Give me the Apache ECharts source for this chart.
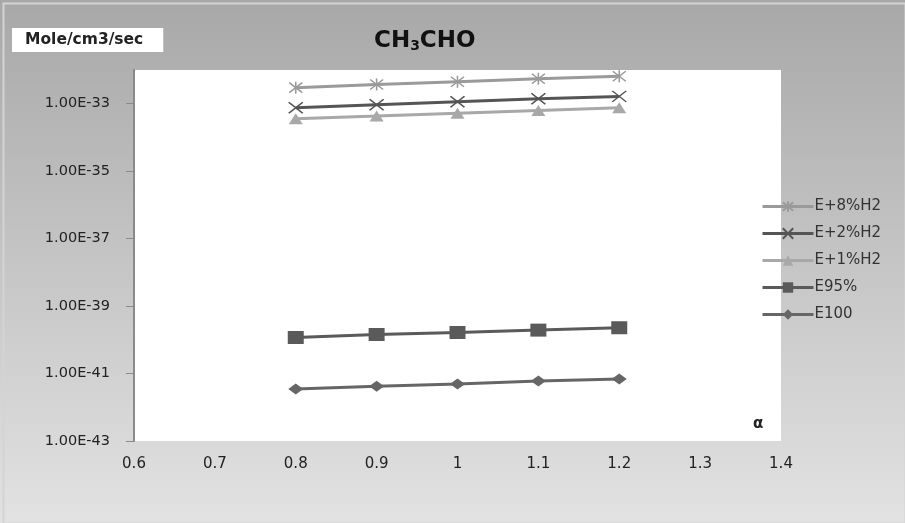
<!DOCTYPE html>
<html><head><meta charset="utf-8">
<script src="https://cdn.jsdelivr.net/npm/echarts@6/dist/echarts.min.js"></script>
<style>html,body{margin:0;padding:0;}#c{width:905px;height:523px;}</style>
</head><body><div id="c"></div>
<script>
var alpha = [0.8, 0.9, 1.0, 1.1, 1.2];
var seriesNames = ['E+8%H2', 'E+2%H2', 'E+1%H2', 'E95%', 'E100'];
var e8h2 = [3.0e-33, 3.7e-33, 4.5e-33, 5.5e-33, 6.5e-33];
var e2h2 = [7.6e-34, 9.3e-34, 1.15e-33, 1.4e-33, 1.65e-33];
var e1h2 = [3.6e-34, 4.3e-34, 5.2e-34, 6.3e-34, 7.6e-34];
var e95 = [1.17e-40, 1.44e-40, 1.65e-40, 1.94e-40, 2.28e-40];
var e100 = [3.5e-42, 4.2e-42, 4.9e-42, 6.0e-42, 6.9e-42];
var yTickExponents = [-43, -41, -39, -37, -35, -33];

var STAR = 'path://M0,0L10,10M10,0L0,10M5,-1L5,11';
var CROSS = 'path://M0,0L10,10M10,0L0,10';

function pairs(vals){ return alpha.map(function(a,i){ return [a, Math.log10(vals[i])]; }); }

var styles = [
  {data:e8h2, color:'#9a9a9a', symbol:STAR, size:[13,12], stroke:true},
  {data:e2h2, color:'#555555', symbol:CROSS, size:[14,11], stroke:true},
  {data:e1h2, color:'#a8a8a8', symbol:'triangle', size:[14,11], stroke:false},
  {data:e95, color:'#5a5a5a', symbol:'rect', size:[16,13], stroke:false},
  {data:e100, color:'#666666', symbol:'diamond', size:[15,11], stroke:false}
];

var series = styles.map(function(s, i){
  return {
    name: seriesNames[i],
    type: 'line',
    data: pairs(s.data),
    symbol: s.symbol,
    symbolSize: s.size,
    showAllSymbol: true,
    lineStyle: {color: s.color, width: 3},
    itemStyle: s.stroke ? {color: 'rgba(0,0,0,0)', borderColor: s.color, borderWidth: 1.5} : {color: s.color},
    emphasis: {disabled: true},
    animation: false
  };
});

var FONT = 'DejaVu Sans';
var chart = echarts.init(document.getElementById('c'));
chart.setOption({
  animation: false,
  backgroundColor: {type:'linear', x:0, y:0, x2:0, y2:1, colorStops:[{offset:0, color:'#a8a8a8'},{offset:1, color:'#e2e2e2'}]},
  title: [
    {text: 'CH{s|3}CHO', left: 369, top: 25,
     textStyle: {fontFamily: FONT, fontSize: 23, fontWeight: 'bold', color: '#111',
       rich: {s: {fontFamily: FONT, fontSize: 14, fontWeight: 'bold', color: '#111', verticalAlign: 'bottom', padding:[7,0,0,0]}}}},
    {text: 'Mole/cm3/sec', left: 12, top: 28, backgroundColor: '#fff', padding: [4, 20, 4, 13],
     textStyle: {fontFamily: FONT, fontSize: 15.5, fontWeight: 'bold', color: '#222'}}
  ],
  grid: {left: 134, right: 124, top: 70, bottom: 82, show: true, backgroundColor: '#fff', borderWidth: 0, containLabel: false},
  legend: {
    orient: 'vertical', left: 761, top: 199, padding: 0, itemWidth: 51, itemHeight: 13, itemGap: 12,
    data: seriesNames,
    lineStyle: {width: 3},
    textStyle: {fontFamily: FONT, fontSize: 15, color: '#333', padding:[0,0,0,-4]}
  },
  xAxis: {
    type: 'value', min: 0.6, max: 1.4, interval: 0.1,
    axisLine: {show: false}, axisTick: {show: false}, splitLine: {show: false},
    axisLabel: {fontFamily: FONT, fontSize: 15, color: '#222', margin: 16,
      formatter: function(v){ var r = Math.round(v*10)/10; return String(r); }}
  },
  yAxis: {
    type: 'value', min: -43, max: -32,
    axisLine: {show: true, lineStyle: {color: '#8a8a8a', width: 2}},
    axisTick: {show: true, length: 8, lineStyle: {color: '#8a8a8a'}, customValues: yTickExponents},
    splitLine: {show: false},
    axisLabel: {fontFamily: FONT, fontSize: 14.5, color: '#222', margin: 24, customValues: yTickExponents,
      formatter: function(v){ var e = Math.round(v); return '1.00E' + (e < 0 ? '-' : '+') + Math.abs(e); }}
  },
  graphic: [
    {type: 'rect', left: 1, top: 1, shape: {width: 902, height: 520}, style: {fill: 'none', stroke: '#d4d4d4', lineWidth: 2}, silent: true},
    {type: 'text', left: 753, top: 417, style: {text: 'α', fontFamily: FONT, fontSize: 15, fontWeight: 'bold', fill: '#222'}}
  ],
  series: series
});
</script></body></html>
